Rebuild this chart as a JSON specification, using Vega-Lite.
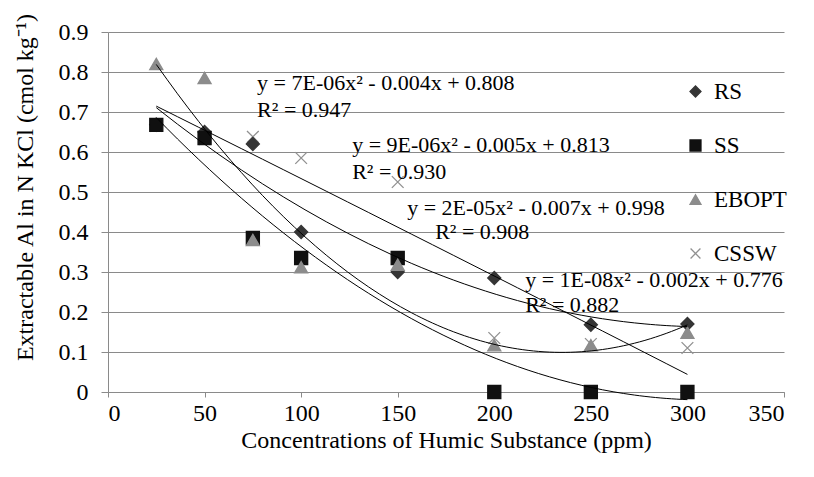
{
  "$schema": "https://vega.github.io/schema/vega-lite/v6.json",
  "width": 676,
  "height": 360,
  "autosize": {"type": "none"},
  "padding": {"left": 108, "top": 32, "right": 30, "bottom": 85},
  "background": "white",
  "config": {
    "view": {"stroke": null},
    "font": "Liberation Serif",
    "axis": {
      "labelFont": "Liberation Serif",
      "titleFont": "Liberation Serif",
      "labelFontSize": 24,
      "titleFontSize": 24,
      "labelColor": "black",
      "titleColor": "black",
      "titleFontWeight": "normal",
      "domainColor": "#8a8a8a",
      "tickColor": "#8a8a8a",
      "gridColor": "#8a8a8a",
      "gridOpacity": 1,
      "labelOverlap": false
    },
    "legend": {
      "labelFont": "Liberation Serif",
      "labelFontSize": 23,
      "labelColor": "black"
    }
  },
  "datasets": {
    "pts": [
      {"x": 25, "y": 0.665, "s": "CSSW"},
      {"x": 50, "y": 0.632, "s": "CSSW"},
      {"x": 75, "y": 0.638, "s": "CSSW"},
      {"x": 100, "y": 0.585, "s": "CSSW"},
      {"x": 150, "y": 0.525, "s": "CSSW"},
      {"x": 200, "y": 0.135, "s": "CSSW"},
      {"x": 250, "y": 0.12, "s": "CSSW"},
      {"x": 300, "y": 0.11, "s": "CSSW"},
      {"x": 25, "y": 0.668, "s": "RS"},
      {"x": 50, "y": 0.65, "s": "RS"},
      {"x": 75, "y": 0.62, "s": "RS"},
      {"x": 100, "y": 0.40, "s": "RS"},
      {"x": 150, "y": 0.30, "s": "RS"},
      {"x": 200, "y": 0.285, "s": "RS"},
      {"x": 250, "y": 0.168, "s": "RS"},
      {"x": 300, "y": 0.17, "s": "RS"},
      {"x": 25, "y": 0.668, "s": "SS"},
      {"x": 50, "y": 0.635, "s": "SS"},
      {"x": 75, "y": 0.385, "s": "SS"},
      {"x": 100, "y": 0.335, "s": "SS"},
      {"x": 150, "y": 0.335, "s": "SS"},
      {"x": 200, "y": 0.0, "s": "SS"},
      {"x": 250, "y": 0.0, "s": "SS"},
      {"x": 300, "y": 0.0, "s": "SS"},
      {"x": 25, "y": 0.82, "s": "EBOPT"},
      {"x": 50, "y": 0.785, "s": "EBOPT"},
      {"x": 75, "y": 0.38, "s": "EBOPT"},
      {"x": 100, "y": 0.312, "s": "EBOPT"},
      {"x": 150, "y": 0.318, "s": "EBOPT"},
      {"x": 200, "y": 0.117, "s": "EBOPT"},
      {"x": 250, "y": 0.117, "s": "EBOPT"},
      {"x": 300, "y": 0.148, "s": "EBOPT"}
    ],
    "eq": [
      {"x": 77.2, "y": 0.7725, "t": "y = 7E-06x² - 0.004x + 0.808"},
      {"x": 77.2, "y": 0.705, "t": "R² = 0.947"},
      {"x": 126.4, "y": 0.6175, "t": "y = 9E-06x² - 0.005x + 0.813"},
      {"x": 126.4, "y": 0.55, "t": "R² = 0.930"},
      {"x": 154.9, "y": 0.46, "t": "y =  2E-05x²  -  0.007x  +  0.998"},
      {"x": 169.4, "y": 0.4, "t": "R² = 0.908"},
      {"x": 216, "y": 0.28, "t": "y = 1E-08x² - 0.002x + 0.776"},
      {"x": 216, "y": 0.2175, "t": "R² = 0.882"}
    ]
  },
  "encoding": {
    "x": {
      "field": "x", "type": "quantitative",
      "scale": {"domain": [0, 350], "nice": false, "zero": false},
      "axis": {
        "values": [0, 50, 100, 150, 200, 250, 300, 350],
        "grid": false,
        "tickSize": 5,
        "labelPadding": 4,
        "title": "Concentrations of Humic Substance (ppm)",
        "titlePadding": 3
      }
    },
    "y": {
      "field": "y", "type": "quantitative",
      "scale": {"domain": [0, 0.9], "nice": false, "zero": false},
      "axis": {
        "values": [0, 0.1, 0.2, 0.3, 0.4, 0.5, 0.6, 0.7, 0.8, 0.9],
        "tickCount": 10,
        "format": ".1~f",
        "grid": true,
        "tickSize": 7,
        "labelPadding": 13,
        "title": "Extractable Al in N KCl (cmol kg⁻¹)",
        "titleAngle": 270,
        "titleX": -83,
        "titleY": 155,
        "titleAlign": "center",
        "titleBaseline": "middle"
      }
    }
  },
  "layer": [
    {
      "data": {"name": "pts"},
      "mark": {"type": "point", "filled": true, "size": 170, "strokeWidth": 1.3, "opacity": 1},
      "encoding": {
        "shape": {
          "field": "s", "type": "nominal",
          "scale": {"domain": ["RS", "SS", "EBOPT", "CSSW"], "range": ["diamond", "square", "triangle-up", "M-0.9,-0.9L0.9,0.9M-0.9,0.9L0.9,-0.9"]},
          "legend": {
            "title": null,
            "orient": "none",
            "legendX": 576,
            "legendY": 48,
            "padding": 0,
            "rowPadding": 30,
            "labelOffset": 7,
            "symbolSize": 120,
            "symbolStrokeWidth": 1.3
          }
        },
        "fill": {
          "field": "s", "type": "nominal",
          "scale": {"domain": ["RS", "SS", "EBOPT", "CSSW"], "range": ["#353535", "#101010", "#8c8c8c", "transparent"]}
        },
        "stroke": {
          "field": "s", "type": "nominal",
          "scale": {"domain": ["RS", "SS", "EBOPT", "CSSW"], "range": ["#353535", "#101010", "#8c8c8c", "#909090"]}
        }
      }
    },
    {
      "data": {"name": "pts"},
      "transform": [
        {"regression": "y", "on": "x", "groupby": ["s"], "method": "poly", "order": 2}
      ],
      "mark": {"type": "line", "color": "black", "strokeWidth": 1, "interpolate": "monotone"},
      "encoding": {
        "detail": {"field": "s", "type": "nominal"}
      }
    },
    {
      "data": {"name": "eq"},
      "mark": {"type": "text", "align": "left", "baseline": "middle", "font": "Liberation Serif", "fontSize": 22, "color": "black"},
      "encoding": {
        "text": {"field": "t", "type": "nominal"}
      }
    }
  ]
}
